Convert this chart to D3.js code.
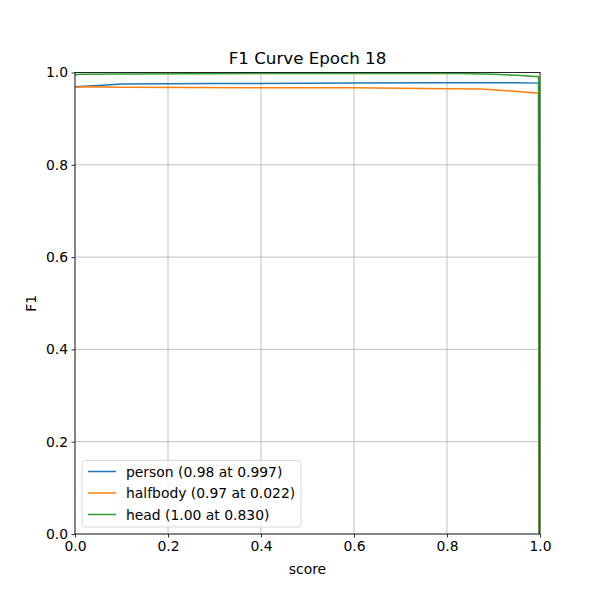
<!DOCTYPE html>
<html><head><meta charset="utf-8">
<script src="https://cdn.jsdelivr.net/npm/d3@7"></script>
<style>body{margin:0;background:#fff;} text{font-family:"DejaVu Sans",sans-serif;}</style>
</head><body>
<svg id="c" width="600" height="600"></svg>
<script>
const xTicks = [0, 0.2, 0.4, 0.6, 0.8, 1.0];
const yTicks = [0, 0.2, 0.4, 0.6, 0.8, 1.0];
const seriesNames = ["person (0.98 at 0.997)", "halfbody (0.97 at 0.022)", "head (1.00 at 0.830)"];
const seriesColors = ["#1f77b4", "#ff7f0e", "#2ca02c"];
const personScore = [0, 0.02, 0.05, 0.1, 0.3, 0.6, 0.8, 0.95, 0.997, 0.998, 1.0];
const personF1 = [0.969, 0.970, 0.972, 0.975, 0.976, 0.977, 0.978, 0.978, 0.977, 0.0, 0.0];
const halfbodyScore = [0, 0.022, 0.1, 0.4, 0.6, 0.8, 0.875, 0.95, 0.997, 0.998, 1.0];
const halfbodyF1 = [0.968, 0.969, 0.968, 0.967, 0.967, 0.965, 0.964, 0.959, 0.955, 0.0, 0.0];
const headScore = [0, 0.01, 0.1, 0.5, 0.83, 0.9, 0.95, 0.997, 0.998, 1.0];
const headF1 = [0.995, 0.996, 0.997, 0.998, 0.998, 0.996, 0.994, 0.991, 0.0, 0.0];

const svg = d3.select("#c");
const L = 75, R = 540, T = 72.5, B = 534;
const x = d3.scaleLinear().domain([0, 1]).range([L, R]);
const y = d3.scaleLinear().domain([0, 1]).range([B, T]);

// grid
const g = svg.append("g");
g.selectAll("line.vx").data(xTicks).join("line")
  .attr("x1", d => x(d)).attr("x2", d => x(d)).attr("y1", T).attr("y2", B)
  .attr("stroke", "#b0b0b0").attr("stroke-width", 0.8);
g.selectAll("line.hy").data(yTicks).join("line")
  .attr("y1", d => y(d)).attr("y2", d => y(d)).attr("x1", L).attr("x2", R)
  .attr("stroke", "#b0b0b0").attr("stroke-width", 0.8);

// lines
const series = [
  {s: personScore, v: personF1},
  {s: halfbodyScore, v: halfbodyF1},
  {s: headScore, v: headF1}
];
const line = d3.line().x(d => x(d[0])).y(d => y(d[1]));
const clip = svg.append("clipPath").attr("id", "cp").append("rect")
  .attr("x", L).attr("y", T).attr("width", R - L).attr("height", B - T);
series.forEach((sr, i) => {
  svg.append("path").datum(sr.s.map((s, j) => [s, sr.v[j]]))
    .attr("d", line).attr("fill", "none")
    .attr("stroke", seriesColors[i]).attr("stroke-width", 1.5)
    .attr("clip-path", "url(#cp)");
});

// axes
const xa = svg.append("g").attr("transform", `translate(0,${B})`)
  .call(d3.axisBottom(x).tickValues(xTicks).tickFormat(d3.format(".1f")).tickSizeOuter(0).tickSize(3.5).tickPadding(3.5));
const ya = svg.append("g").attr("transform", `translate(${L},0)`)
  .call(d3.axisLeft(y).tickValues(yTicks).tickFormat(d3.format(".1f")).tickSizeOuter(0).tickSize(3.5).tickPadding(3.5));
[xa, ya].forEach(a => {
  a.select(".domain").remove();
  a.selectAll("text").attr("font-size", 13.9).attr("fill", "#000").attr("font-family", "DejaVu Sans");
  a.selectAll("line").attr("stroke", "#000").attr("stroke-width", 0.8);
});
svg.append("rect").attr("x", L).attr("y", T).attr("width", R - L).attr("height", B - T)
  .attr("fill", "none").attr("stroke", "#000").attr("stroke-width", 0.8);

// labels
svg.append("text").attr("x", (L + R) / 2).attr("y", 64).attr("text-anchor", "middle")
  .attr("font-size", 16.7).text("F1 Curve Epoch 18");
svg.append("text").attr("x", (L + R) / 2).attr("y", 574).attr("text-anchor", "middle")
  .attr("font-size", 13.9).text("score");
svg.append("text").attr("transform", `translate(36,${(T + B) / 2}) rotate(-90)`).attr("text-anchor", "middle")
  .attr("font-size", 13.9).text("F1");

// legend
const lg = svg.append("g");
lg.append("rect").attr("x", 82).attr("y", 460.5).attr("width", 219).attr("height", 66.5).attr("rx", 3)
  .attr("fill", "#fff").attr("fill-opacity", 0.8).attr("stroke", "#d0d0d0").attr("stroke-width", 0.8);
seriesNames.forEach((n, i) => {
  const yy = 471.5 + i * 21.5;
  lg.append("line").attr("x1", 88).attr("x2", 116).attr("y1", yy).attr("y2", yy)
    .attr("stroke", seriesColors[i]).attr("stroke-width", 1.5);
  lg.append("text").attr("x", 126).attr("y", yy + 5).attr("font-size", 13.9).text(n);
});
</script>
</body></html>
